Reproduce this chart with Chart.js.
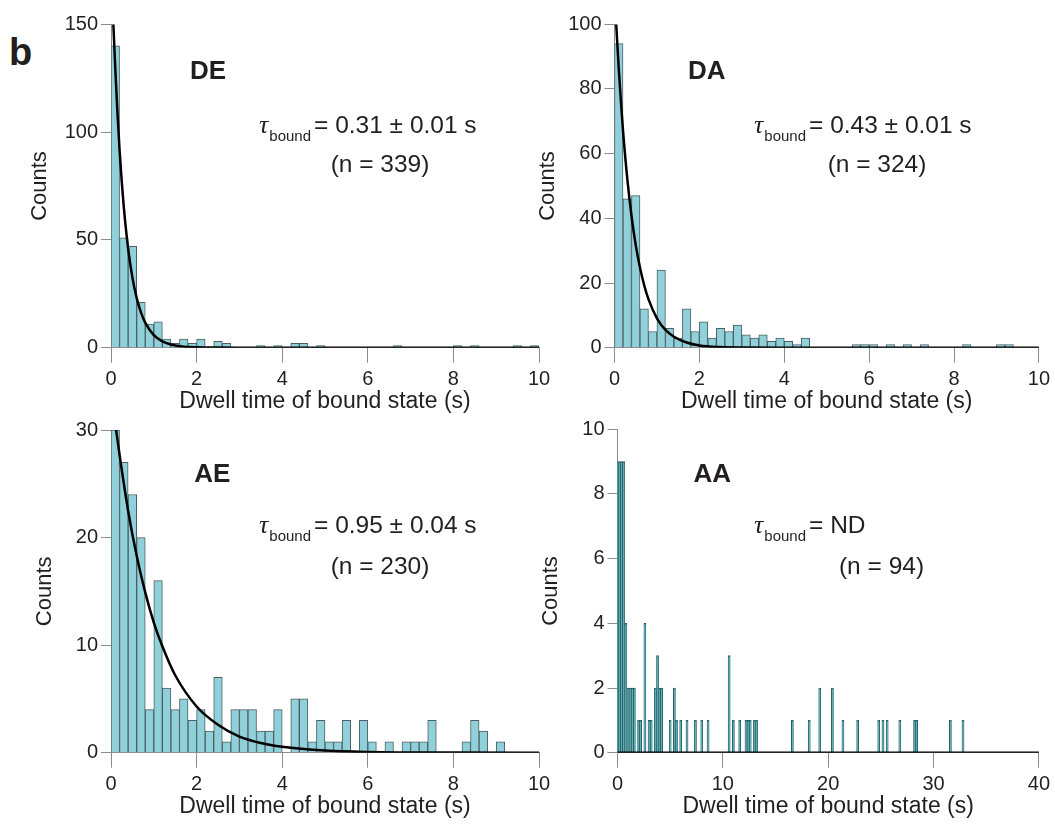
<!DOCTYPE html>
<html>
<head>
<meta charset="utf-8">
<script src="https://cdn.jsdelivr.net/npm/chart.js@4.4.0/dist/chart.umd.min.js"></script>
<style>
  body { margin: 0; background: #fff; }
  #wrap { position: relative; width: 1055px; height: 825px; overflow: hidden; }
  #wrap canvas { position: absolute; }
  #letter { position: absolute; left: 9px; top: 33px; font: bold 38px "Liberation Sans", Arial, sans-serif; color: #231f20; line-height: 1; }
</style>
</head>
<body>
<div id="wrap">
  <div id="letter">b</div>
  <canvas id="de" width="560" height="420" style="left:0;top:0"></canvas>
  <canvas id="da" width="552" height="420" style="left:503px;top:0"></canvas>
  <canvas id="ae" width="560" height="420" style="left:0;top:405px"></canvas>
  <canvas id="aa" width="552" height="420" style="left:503px;top:405px"></canvas>
</div>
<script>
// histogram bins of 0.2 s (DE, DA, AE start at 0 s)
const binWidth = 0.2;

// DE
const deCounts = [140, 51, 47, 21, 11, 12, 4, 2, 4, 2,
                  4, 0, 3, 2, 0, 0, 0, 1, 0, 1,
                  0, 2, 2, 0, 1, 0, 0, 0, 0, 0,
                  0, 0, 0, 1, 0, 0, 0, 0, 0, 0,
                  1, 0, 1, 0, 0, 0, 0, 1, 0, 1];
const deFitTime = [0.055, 0.1, 0.15, 0.2, 0.25, 0.3, 0.4, 0.5, 0.6, 0.7, 0.8, 1.0, 1.2, 1.4, 1.7, 2.0, 2.5, 3.0, 4.0, 6.0, 10.0];
const deFitCounts = [150, 129.6, 109.1, 91.8, 77.3, 65.0, 46.1, 32.6, 23.1, 16.4, 11.6, 5.8, 2.9, 1.5, 0.5, 0.2, 0.05, 0.01, 0, 0, 0];

// DA
const daCounts = [94, 46, 47, 12, 5, 24, 6, 3, 12, 5,
                  8, 3, 6, 5, 7, 4, 3, 4, 2, 3,
                  2, 1, 3, 0, 0, 0, 0, 0, 1, 1,
                  1, 0, 1, 0, 1, 0, 1, 0, 0, 0,
                  0, 1, 0, 0, 0, 1, 1, 0, 0, 0];
const daFitTime = [0.04, 0.1, 0.15, 0.2, 0.3, 0.4, 0.5, 0.6, 0.7, 0.8, 1.0, 1.2, 1.4, 1.7, 2.0, 2.5, 3.0, 4.0, 6.0, 10.0];
const daFitCounts = [100, 86.4, 76.3, 67.3, 52.4, 40.8, 31.8, 24.8, 19.3, 15.0, 9.1, 5.5, 3.4, 1.6, 0.7, 0.2, 0.06, 0, 0, 0];

// AE
const aeCounts = [30, 27, 24, 20, 4, 16, 6, 4, 5, 3,
                  4, 2, 7, 1, 4, 4, 4, 2, 2, 4,
                  0, 5, 5, 1, 3, 1, 1, 3, 0, 3,
                  1, 0, 1, 0, 1, 1, 1, 3, 0, 0,
                  0, 1, 3, 2, 0, 1, 0, 0, 0, 0];
const aeFitTime = [0.12, 0.2, 0.4, 0.6, 0.8, 1.0, 1.2, 1.5, 2.0, 2.5, 3.0, 3.5, 4.0, 5.0, 6.0, 8.0, 10.0];
const aeFitCounts = [30, 27.7, 22.5, 18.3, 14.9, 12.1, 9.9, 7.2, 4.3, 2.6, 1.5, 0.9, 0.55, 0.2, 0.07, 0.01, 0];

// AA (bins centred on multiples of 0.2 s, only non-empty ones)
const aaBinCenters = [0, 0.2, 0.4, 0.6, 0.8, 1.0, 1.2, 1.4, 1.6, 2.0, 2.2, 2.6, 3.0, 3.2, 3.6, 3.8, 4.0, 4.2,
                      5.0, 5.4, 5.6, 6.0, 6.6, 7.4, 8.0, 8.6, 10.6, 11.0, 11.6, 12.2, 12.4, 12.6, 13.0, 13.2,
                      16.6, 18.2, 19.2, 20.4, 21.4, 22.8, 24.8, 25.2, 25.6, 26.8, 28.2, 28.4, 31.6, 32.8];
const aaCounts = [9, 9, 9, 9, 4, 2, 2, 2, 2, 1, 1, 4, 1, 1, 2, 3, 2, 2,
                  1, 2, 1, 1, 1, 1, 1, 1, 3, 1, 1, 1, 1, 1, 1, 1,
                  1, 1, 2, 2, 1, 1, 1, 1, 1, 1, 1, 1, 1, 1];
const aaFitTime = [0, 40];
const aaFitCounts = [0, 0];

const textColor = '#231f20';
const axisColor = '#8c8c8c';
const sans = '"Liberation Sans", Arial, sans-serif';

function histPoints(counts) {
    return counts.map((c, i) => ({ x: (i + 0.5) * binWidth, y: c }));
}

function pairPoints(xs, ys) {
    return xs.map((x, i) => ({ x: x, y: ys[i] }));
}

const panels = [
    {
        id: 'de', pad: { left: 26.8, top: 24.3, right: 21, bottom: 4.2 }, yWidth: 84.2,
        xMax: 10, xStep: 2, yMax: 150, yStep: 50,
        bars: histPoints(deCounts), fit: pairPoints(deFitTime, deFitCounts),
        fill: '#8fd0da', border: '#4d5f62',
        title: 'DE', titleAt: [208, 79.3], tau: '0.31 ± 0.01 s', tauAt: [259, 133.3], n: '(n = 339)', nAt: [380, 171.5]
    },
    {
        id: 'da', pad: { left: 31.8, top: 24.3, right: 14, bottom: 4.2 }, yWidth: 79.7,
        xMax: 10, xStep: 2, yMax: 100, yStep: 20,
        bars: histPoints(daCounts), fit: pairPoints(daFitTime, daFitCounts),
        fill: '#8fd0da', border: '#4d5f62',
        title: 'DA', titleAt: [203.7, 79.3], tau: '0.43 ± 0.01 s', tauAt: [251, 133.3], n: '(n = 324)', nAt: [374, 171.5]
    },
    {
        id: 'ae', pad: { left: 31.8, top: 25, right: 21, bottom: 4.2 }, yWidth: 79.2,
        xMax: 10, xStep: 2, yMax: 30, yStep: 10,
        bars: histPoints(aeCounts), fit: pairPoints(aeFitTime, aeFitCounts),
        fill: '#8fd0da', border: '#4d5f62',
        title: 'AE', titleAt: [212.2, 76.7], tau: '0.95 ± 0.04 s', tauAt: [259, 128.3], n: '(n = 230)', nAt: [380, 168.5]
    },
    {
        id: 'aa', pad: { left: 34.8, top: 24.3, right: 13.7, bottom: 4.2 }, yWidth: 79.7,
        xMax: 40, xStep: 10, yMax: 10, yStep: 2,
        bars: pairPoints(aaBinCenters, aaCounts), fit: pairPoints(aaFitTime, aaFitCounts),
        fill: '#33b2ba', border: '#2f5f62',
        title: 'AA', titleAt: [209.2, 76.7], tau: 'ND', tauAt: [251, 128.3], n: '(n = 94)', nAt: [378.5, 168.5]
    }
];

const annotations = {
    id: 'annotations',
    afterDraw(chart, args, opts) {
        const p = opts.panel;
        const ctx = chart.ctx;
        ctx.save();
        ctx.fillStyle = textColor;
        ctx.textBaseline = 'alphabetic';

        ctx.textAlign = 'center';
        ctx.font = 'bold 26px ' + sans;
        ctx.fillText(p.title, p.titleAt[0], p.titleAt[1]);

        ctx.textAlign = 'left';
        let x = p.tauAt[0];
        const y = p.tauAt[1];
        ctx.font = 'italic 26px "Liberation Serif", "DejaVu Serif", serif';
        ctx.fillText('τ', x, y);
        x += ctx.measureText('τ').width + 1;
        ctx.font = '15px ' + sans;
        ctx.fillText('bound', x, y + 8);
        x += ctx.measureText('bound').width + 3;
        ctx.font = '24.5px ' + sans;
        ctx.fillText('= ' + p.tau, x, y);

        ctx.textAlign = 'center';
        ctx.fillText(p.n, p.nAt[0], p.nAt[1]);
        ctx.restore();
    }
};

panels.forEach(p => {
    new Chart(document.getElementById(p.id), {
        type: 'bar',
        data: {
            datasets: [
                {
                    type: 'line',
                    data: p.fit,
                    borderColor: '#000',
                    borderWidth: 2.5,
                    pointRadius: 0,
                    cubicInterpolationMode: 'monotone',
                    order: 0
                },
                {
                    data: p.bars,
                    backgroundColor: p.fill,
                    borderColor: p.border,
                    borderWidth: 1,
                    barPercentage: 1,
                    categoryPercentage: 1,
                    order: 1
                }
            ]
        },
        options: {
            responsive: false,
            animation: false,
            events: [],
            layout: { padding: p.pad },
            plugins: {
                legend: { display: false },
                tooltip: { enabled: false },
                annotations: { panel: p }
            },
            scales: {
                x: {
                    type: 'linear',
                    offset: false,
                    min: 0,
                    max: p.xMax,
                    afterFit: s => { s.height = 68.1; },
                    ticks: { stepSize: p.xStep, padding: 5, color: textColor, font: { family: sans, size: 20 } },
                    grid: { offset: false, drawOnChartArea: false, tickLength: 15, color: axisColor, tickColor: axisColor },
                    border: { color: axisColor, width: 1 },
                    title: {
                        display: true, text: 'Dwell time of bound state (s)', color: textColor,
                        font: { family: sans, size: 23 }, padding: 0
                    }
                },
                y: {
                    min: 0,
                    max: p.yMax,
                    afterFit: s => { s.width = p.yWidth; },
                    ticks: { stepSize: p.yStep, padding: 3, color: textColor, font: { family: sans, size: 20 } },
                    grid: { drawOnChartArea: false, tickLength: 10, color: axisColor, tickColor: axisColor },
                    border: { color: axisColor, width: 1 },
                    title: {
                        display: true, text: 'Counts', color: textColor,
                        font: { family: sans, size: 22 }, padding: 0
                    }
                }
            }
        },
        plugins: [annotations]
    });
});
</script>
</body>
</html>
